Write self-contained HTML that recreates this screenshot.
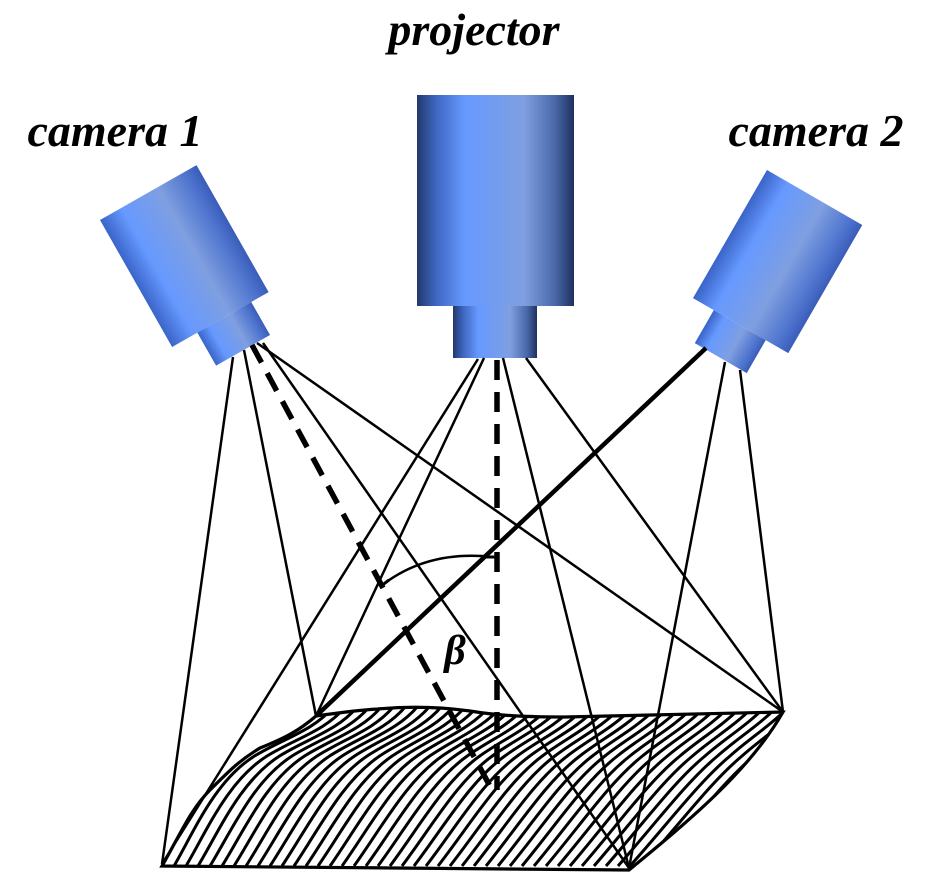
<!DOCTYPE html>
<html><head><meta charset="utf-8"><style>
html,body{margin:0;padding:0;background:#fff;}
svg{display:block;}
text{font-family:"Liberation Serif",serif;font-weight:bold;font-style:italic;}
</style></head><body>
<svg width="928" height="883" viewBox="0 0 928 883" xmlns="http://www.w3.org/2000/svg">
<defs>
<linearGradient id="gp" x1="0" y1="0" x2="1" y2="0">
<stop offset="0" stop-color="#22386a"/><stop offset="0.12" stop-color="#3e66c0"/><stop offset="0.3" stop-color="#6699ff"/><stop offset="0.68" stop-color="#7f9fe0"/><stop offset="0.88" stop-color="#4a68a8"/><stop offset="1" stop-color="#1e3060"/>
</linearGradient>
<linearGradient id="gc" x1="0" y1="0" x2="1" y2="0">
<stop offset="0" stop-color="#3a64c8"/><stop offset="0.22" stop-color="#6699ff"/><stop offset="0.6" stop-color="#7f9fe0"/><stop offset="0.9" stop-color="#4a70cc"/><stop offset="1" stop-color="#3a5cb8"/>
</linearGradient>
<clipPath id="surf"><path d="M316,716 C345,712 360,710 378,709 C410,706 440,707 470,711 C500,716 530,717 565,717 L783,712 C750,770 690,820 629,870 L162,866 C180,835 190,810 210,790 C230,770 240,760 260,748 C285,738 300,730 316,716 Z"/></clipPath>
</defs>
<text x="474" y="45" font-size="46" text-anchor="middle">projector</text>
<text x="115" y="146" font-size="46" text-anchor="middle">camera 1</text>
<text x="816" y="146" font-size="46" text-anchor="middle">camera 2</text>

<g transform="translate(100,220) rotate(-29.6)">
<rect x="0" y="0" width="111" height="146" fill="url(#gc)"/>
<rect x="29" y="146" width="62" height="38" fill="url(#gc)"/>
</g>
<g transform="translate(767,170) rotate(30)">
<rect x="0" y="0" width="110" height="148" fill="url(#gc)"/>
<rect x="24" y="148" width="60" height="38" fill="url(#gc)"/>
</g>
<rect x="417" y="95" width="157" height="211" fill="url(#gp)"/>
<rect x="453" y="306" width="84" height="52" fill="url(#gp)"/>

<g id="stripes" clip-path="url(#surf)" fill="none" stroke="#000" stroke-width="3"></g>
<path d="M316,716 C345,712 360,710 378,709 C410,706 440,707 470,711 C500,716 530,717 565,717 L783,712 C750,770 690,820 629,870 L162,866 C180,835 190,810 210,790 C230,770 240,760 260,748 C285,738 300,730 316,716 Z" fill="none" stroke="#000" stroke-width="3.2"/>

<g stroke="#000" stroke-width="2.5" fill="none">
<line x1="233" y1="357" x2="162" y2="864"/>
<line x1="244" y1="350" x2="316" y2="716"/>
<line x1="257" y1="343" x2="783" y2="712"/>
<line x1="263" y1="343" x2="629" y2="868"/>
<line x1="478" y1="359" x2="162" y2="864"/>
<line x1="484" y1="358" x2="316" y2="716"/>
<line x1="503" y1="358" x2="629" y2="868"/>
<line x1="526" y1="358" x2="783" y2="712"/>
<line x1="725" y1="362" x2="629" y2="868"/>
<line x1="740" y1="370" x2="783" y2="712"/>
<line x1="706" y1="348" x2="316" y2="716" stroke-width="4.5"/>
<path d="M385,583 Q430,550 493,557" />
<line x1="381" y1="586" x2="389" y2="580" stroke-width="3"/>
<line x1="483" y1="557" x2="498" y2="557" stroke-width="3"/>
</g>
<g stroke="#000" stroke-width="5.5" fill="none" stroke-dasharray="20,12">
<line x1="497" y1="360" x2="497" y2="790"/>
<line x1="252" y1="345" x2="492" y2="790"/>
</g>
<text x="455" y="664" font-size="42" text-anchor="middle" font-weight="normal">β</text>
</svg>
<script>
var g=document.getElementById('stripes');var s='';
var L=[20,-35,40,-85,80,-110,110,-128,140,-135,160,-160];
var R=[40,-45,70,-85,100,-110,120,-128,140,-140,160,-160];
for(var x=150;x<800;x+=12){
 var t=(x-162)/467;if(t<0)t=0;if(t>1)t=1;
 var p=[];for(var i=0;i<12;i++){p.push(L[i]*(1-t)+R[i]*t+(i%2==0?x:866));}
 s+='<path d="M'+x+',866 C'+p[0]+','+p[1]+' '+p[2]+','+p[3]+' '+p[4]+','+p[5]+' C'+p[6]+','+p[7]+' '+p[8]+','+p[9]+' '+p[10]+','+p[11]+' L'+(x+230)+','+(866-230)+'"/>';
}
g.innerHTML=s;
</script>
</body></html>
